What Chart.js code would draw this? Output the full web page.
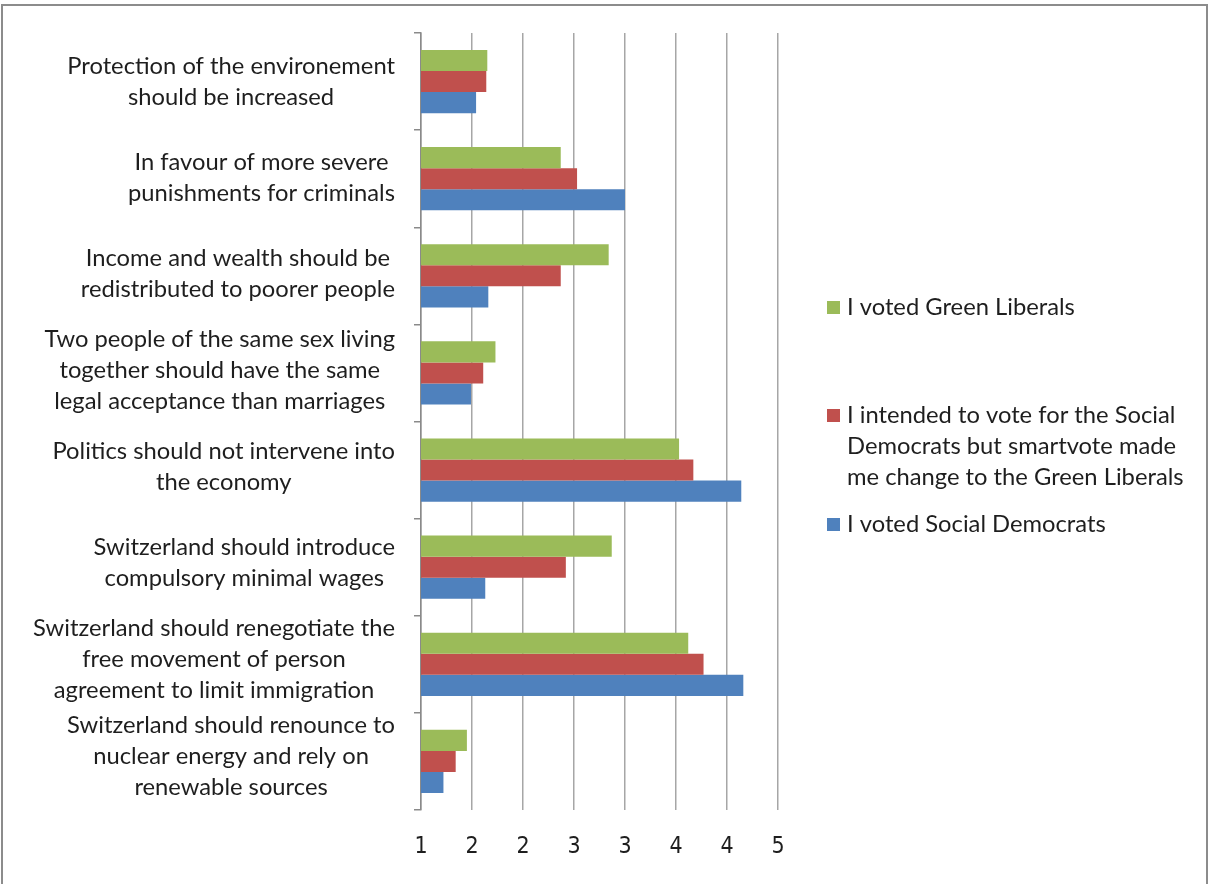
<!DOCTYPE html>
<html><head><meta charset="utf-8">
<script src="https://cdn.jsdelivr.net/npm/chart.js@4.4.0/dist/chart.umd.min.js"></script>
<style>
html,body{margin:0;padding:0;background:#fff;}
#wrap{position:relative;width:1212px;height:884px;overflow:hidden;}
#frame{position:absolute;left:1px;top:4px;width:1203px;height:900px;border:2px solid #8c8c8c;box-sizing:content-box;}
canvas{position:absolute;left:0;top:0;}
</style></head><body>
<div id="wrap"><div id="frame"></div><canvas id="c" width="1212" height="884"></canvas></div>
<script>
const categories = [
  ["Protection of the environement", "should be increased"],
  ["In favour of more severe", "punishments for criminals"],
  ["Income and wealth should be", "redistributed to poorer people"],
  ["Two people of the same sex living", "together should have the same", "legal acceptance than marriages"],
  ["Politics should not intervene into", "the economy"],
  ["Switzerland should introduce", "compulsory minimal wages"],
  ["Switzerland should renegotiate the", "free movement of person", "agreement to limit immigration"],
  ["Switzerland should renounce to", "nuclear energy and rely on", "renewable sources"]
];
const votedGreenLiberals     = [1.65, 2.37, 2.84, 1.73, 3.53, 2.87, 3.62, 1.45];
const switchedToGreenLiberals = [1.64, 2.53, 2.37, 1.61, 3.67, 2.42, 3.77, 1.34];
const votedSocialDemocrats   = [1.54, 3.00, 1.66, 1.49, 4.14, 1.63, 4.16, 1.22];
const seriesNames = [
  ["I voted Green Liberals"],
  ["I intended to vote for the Social", "Democrats but smartvote made", "me change to the Green Liberals"],
  ["I voted Social Democrats"]
];
const xTickLabels = ["1", "2", "2", "3", "3", "4", "4", "5"];

const COLORS = ["#9BBB59", "#C0504D", "#4F81BD"];
const TEXT = "#1e1e1e";
const FONT = "Lato";

function fitSize(ctx, text, target) {
  ctx.font = "100px " + FONT;
  return 100 * target / ctx.measureText(text).width;
}

const textPlugin = {
  id: "textPlugin",
  afterDraw(chart) {
    const ctx = chart.ctx, ys = chart.scales.y;
    ctx.save();
    const fs = fitSize(ctx, "Switzerland should renegotiate the", 362);
    ctx.font = fs.toFixed(2) + "px " + FONT;
    ctx.fillStyle = TEXT;
    ctx.textAlign = "center";
    ctx.textBaseline = "middle";
    const lh = 31;
    categories.forEach((lines, i) => {
      const w = Math.max(...lines.map(l => ctx.measureText(l).width));
      const cx = 395 - w / 2;
      const cy = ys.getPixelForValue(i) - 0.8 * i;
      lines.forEach((l, k) => ctx.fillText(l, cx, cy + (k - (lines.length - 1) / 2) * lh));
    });
    // legend
    const legendY = [307, 415, 524];
    ctx.textAlign = "left";
    seriesNames.forEach((lines, i) => {
      ctx.fillStyle = COLORS[i];
      ctx.fillRect(827, legendY[i] - 6, 13, 13);
      ctx.fillStyle = TEXT;
      lines.forEach((l, k) => ctx.fillText(l, 847, legendY[i] + k * lh));
    });
    ctx.restore();
  }
};

new Chart(document.getElementById("c"), {
  type: "bar",
  data: {
    labels: categories,
    datasets: [
      { label: seriesNames[0].join(" "), data: votedGreenLiberals, backgroundColor: COLORS[0] },
      { label: seriesNames[1].join(" "), data: switchedToGreenLiberals, backgroundColor: COLORS[1] },
      { label: seriesNames[2].join(" "), data: votedSocialDemocrats, backgroundColor: COLORS[2] }
    ]
  },
  options: {
    indexAxis: "y",
    responsive: false,
    animation: false,
    devicePixelRatio: 1,
    layout: { padding: { top: 33, right: 434, left: 0, bottom: 0 } },
    datasets: { bar: { categoryPercentage: 0.652, barPercentage: 1, borderWidth: 0 } },
    plugins: { legend: { display: false }, tooltip: { enabled: false } },
    scales: {
      x: {
        min: 1, max: 4.5,
        ticks: {
          stepSize: 0.5,
          color: TEXT,
          padding: 23,
          font: { family: "'Liberation Sans Narrow', 'DejaVu Sans Condensed', sans-serif", size: 23 },
          callback: (v, i) => xTickLabels[i]
        },
        grid: { color: "#a6a6a6", lineWidth: 1.5, drawTicks: false },
        border: { display: false },
        afterFit: s => { s.height = 74; }
      },
      y: {
        ticks: { display: false },
        grid: { drawOnChartArea: false, drawTicks: true, tickLength: 7, color: "#8a8a8a", lineWidth: 1.5 },
        border: { display: true, color: "#8a8a8a", width: 1.5 },
        afterFit: s => { s.width = 421; }
      }
    }
  },
  plugins: [textPlugin]
});
</script>
</body></html>
